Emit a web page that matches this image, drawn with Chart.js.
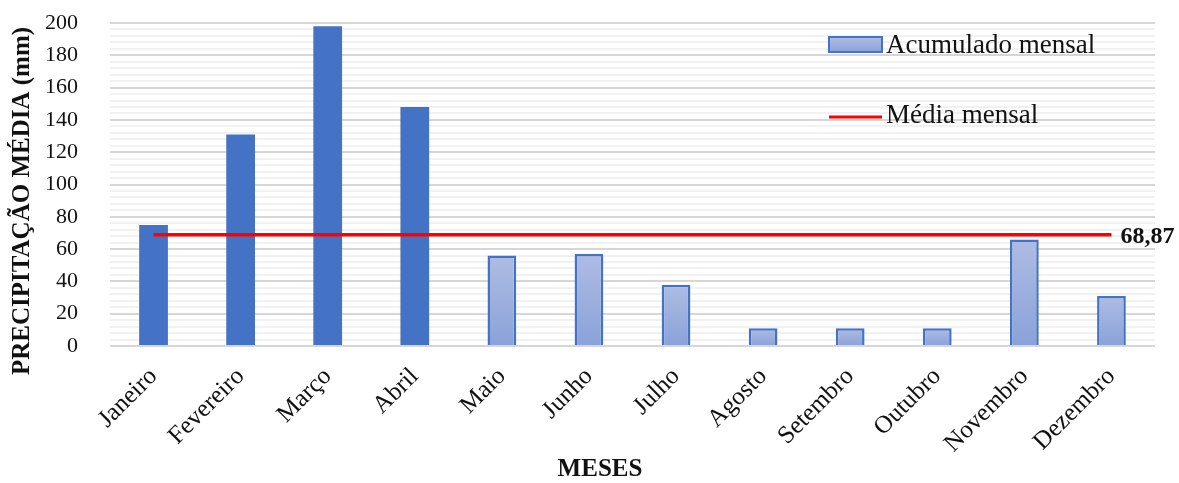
<!DOCTYPE html>
<html>
<head>
<meta charset="utf-8">
<script src="https://cdn.jsdelivr.net/npm/chart.js@4.4.1/dist/chart.umd.min.js"></script>
<style>
  html, body { margin: 0; padding: 0; background: #ffffff; }
  #wrap { width: 1179px; height: 483px; position: relative; }
</style>
</head>
<body>
<div id="wrap"><canvas id="chart" width="1179" height="483"></canvas></div>
<script>
// Monthly rainfall (mm)
const months = ['Janeiro', 'Fevereiro', 'Março', 'Abril', 'Maio', 'Junho',
                'Julho', 'Agosto', 'Setembro', 'Outubro', 'Novembro', 'Dezembro'];
const monthlyTotals = [75, 131, 198, 148, 56, 57, 38, 11, 11, 11, 66, 31];
const monthlyMean = 68.87;
const meanLabel = '68,87';
const seriesNames = ['Acumulado mensal', 'Média mensal'];
const yTickValues = [0, 20, 40, 60, 80, 100, 120, 140, 160, 180, 200];

const SERIF = '"Liberation Serif", "Times New Roman", serif';
const BLUE = '#4472C4';
const LIGHT_TOP = '#aebce3';
const LIGHT_BOTTOM = '#8aa2d9';
const wetMonths = 4; // first four months drawn solid

function lightGradient(ctx, top, bottom) {
  const g = ctx.createLinearGradient(0, top, 0, bottom);
  g.addColorStop(0, LIGHT_TOP);
  g.addColorStop(1, LIGHT_BOTTOM);
  return g;
}

// Legend, mean value label and axis titles
const decorations = {
  id: 'decorations',
  afterDatasetsDraw(chart) {
    const ctx = chart.ctx;
    const x = chart.scales.x, y = chart.scales.y;
    ctx.save();

    // value label at the end of the mean line
    const lastX = x.getPixelForValue(months.length - 1);
    const yMean = y.getPixelForValue(monthlyMean);
    ctx.fillStyle = '#111';
    ctx.font = 'bold 24px ' + SERIF;
    ctx.textAlign = 'left';
    ctx.textBaseline = 'middle';
    ctx.fillText(meanLabel, lastX + 9, yMean + 2);

    // legend
    ctx.font = '27px ' + SERIF;
    ctx.fillStyle = lightGradient(ctx, 37, 52);
    ctx.fillRect(829, 37, 53, 15);
    ctx.strokeStyle = BLUE;
    ctx.lineWidth = 2;
    ctx.strokeRect(829, 37, 53, 15);
    ctx.fillStyle = '#111';
    ctx.fillText(seriesNames[0], 886, 46);

    ctx.strokeStyle = '#ff0000';
    ctx.lineWidth = 3;
    ctx.beginPath();
    ctx.moveTo(829, 117);
    ctx.lineTo(882, 117);
    ctx.stroke();
    ctx.fillText(seriesNames[1], 886, 116);

    // axis titles
    ctx.font = 'bold 25px ' + SERIF;
    ctx.textAlign = 'center';
    ctx.fillText('MESES', 600, 470);
    ctx.translate(23, 201);
    ctx.rotate(-Math.PI / 2);
    ctx.fillText('PRECIPITAÇÃO MÉDIA (mm)', 0, 0);
    ctx.restore();
  }
};

new Chart(document.getElementById('chart'), {
  data: {
    labels: months,
    datasets: [
      {
        type: 'line',
        label: seriesNames[1],
        data: months.map(() => monthlyMean),
        borderColor: '#ff0000',
        borderWidth: 3.5,
        pointRadius: 0,
        order: 0
      },
      {
        type: 'bar',
        label: seriesNames[0],
        data: monthlyTotals,
        order: 1,
        barPercentage: 0.66,
        categoryPercentage: 0.5,
        backgroundColor(c) {
          if (c.dataIndex < wetMonths) return BLUE;
          const chart = c.chart;
          if (!chart.chartArea) return LIGHT_BOTTOM;
          const ys = chart.scales.y;
          return lightGradient(chart.ctx, ys.getPixelForValue(c.raw), ys.getPixelForValue(0));
        },
        borderColor: BLUE,
        borderWidth(c) { return c.dataIndex < wetMonths ? 0 : 2.5; },
        borderSkipped: 'bottom'
      }
    ]
  },
  options: {
    responsive: false,
    animation: false,
    layout: { padding: { left: 0, right: 24, top: 23, bottom: 0 } },
    plugins: { legend: { display: false }, tooltip: { enabled: false } },
    scales: {
      x: {
        grid: { display: false },
        border: { display: false },
        ticks: {
          color: '#111',
          font: { family: SERIF, size: 25 },
          maxRotation: 45, minRotation: 45,
          padding: 8
        },
        afterFit(s) { s.height = 137; }
      },
      y: {
        min: 0, max: 200,
        afterBuildTicks(s) {
          const t = [];
          for (let v = 0; v <= 200; v += 4) t.push({ value: v });
          s.ticks = t;
        },
        grid: {
          color(c) { return yTickValues.includes(c.tick.value) ? '#d6d6d6' : '#f1f1f1'; },
          lineWidth: 2,
          drawTicks: false
        },
        border: { display: false },
        ticks: {
          color: '#111',
          font: { family: SERIF, size: 22 },
          padding: 32,
          autoSkip: false,
          callback(v) { return yTickValues.includes(v) ? String(v) : ''; }
        },
        afterFit(s) {
          s.width = 110;
          // the label gap is horizontal only; keep it out of the vertical padding
          s.paddingTop = 0;
          s.paddingBottom = 0;
        }
      }
    }
  },
  plugins: [decorations]
});
</script>
</body>
</html>
